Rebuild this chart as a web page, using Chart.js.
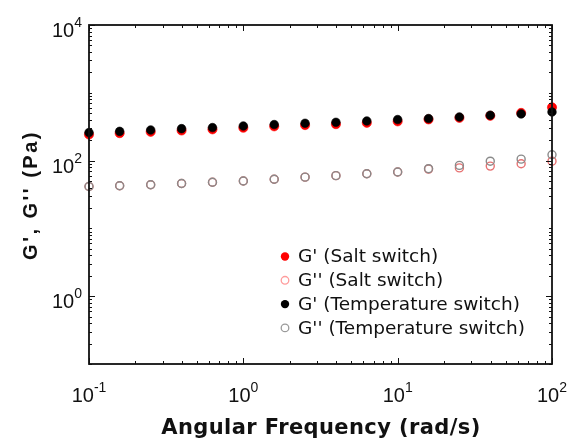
<!DOCTYPE html>
<html>
<head>
<meta charset="utf-8">
<script src="https://cdn.jsdelivr.net/npm/chart.js@4.4.1/dist/chart.umd.min.js"></script>
<style>
  html, body { margin: 0; padding: 0; background: #fff; }
  #wrap { width: 572px; height: 439px; position: relative; }
</style>
</head>
<body>
<div id="wrap"><canvas id="chart"></canvas></div>
<script>
// angular frequency (rad/s), 5 points per decade
const freq = [0.1, 0.158, 0.251, 0.398, 0.631, 1, 1.585, 2.512, 3.981, 6.31, 10, 15.85, 25.12, 39.81, 63.1, 100];
// storage / loss moduli (Pa)
const gpSalt   = [243, 254, 266, 278, 289, 305, 320, 334, 345, 361, 379, 405, 427, 458, 505, 610];
const gppSalt  = [41.5, 42.5, 44, 46, 48, 50, 53, 57, 60, 64, 68, 75, 78, 83, 90, 98];
const gpTemp   = [259, 270, 283, 296, 307, 324, 340, 355, 367, 384, 403, 417, 440, 467, 488, 521];
const gppTemp  = [41.5, 42.5, 44, 46, 48, 50, 53, 57, 60, 64, 68, 76, 85, 98, 105, 122];

const xTickVals = [0.1, 1, 10, 100];
const xTickExp  = ['-1', '0', '1', '2'];
const yTickVals = [1, 100, 10000];
const yTickExp  = ['0', '2', '4'];

const xTitle = 'Angular Frequency (rad/s)';
const yTitle = "G', G'' (Pa)";

const pts = (ys) => freq.map((f, i) => ({ x: f, y: ys[i] }));

const datasets = [
  { label: "G' (Temperature switch)", data: pts(gpTemp), order: 0, legendPos: 2,
    pointRadius: 4.3, pointBackgroundColor: '#000', pointBorderColor: '#000', pointBorderWidth: 0.6, filled: true },
  { label: "G'' (Temperature switch)", data: pts(gppTemp), order: 1, legendPos: 3,
    pointRadius: 4, pointBackgroundColor: 'rgba(0,0,0,0)', pointBorderColor: '#8a8a8a', pointBorderWidth: 1.4, filled: false,
    legendColor: '#9a9a9a' },
  { label: "G' (Salt switch)", data: pts(gpSalt), order: 2, legendPos: 0,
    pointRadius: 4.6, pointBackgroundColor: '#ff0000', pointBorderColor: '#ff0000', pointBorderWidth: 0.6, filled: true },
  { label: "G'' (Salt switch)", data: pts(gppSalt), order: 3, legendPos: 1,
    pointRadius: 4, pointBackgroundColor: 'rgba(0,0,0,0)', pointBorderColor: '#e77272', pointBorderWidth: 1.4, filled: false,
    legendColor: '#ff9c9c' }
];
datasets.forEach(d => { d.showLine = false; d.clip = false; });

function drawPow(ctx, exp, x, base, align) {
  ctx.font = '20px "Liberation Sans", Arial, sans-serif';
  const w10 = ctx.measureText('10').width;
  ctx.font = '14px "Liberation Sans", Arial, sans-serif';
  const we = ctx.measureText(exp).width;
  const start = align === 'center' ? x - (w10 + we) / 2 : x - (w10 + we);
  ctx.textAlign = 'left';
  ctx.textBaseline = 'alphabetic';
  ctx.font = '20px "Liberation Sans", Arial, sans-serif';
  ctx.fillText('10', start, base);
  ctx.font = '14px "Liberation Sans", Arial, sans-serif';
  ctx.fillText(exp, start + w10, base - 10);
}

const frame = {
  id: 'frame',
  afterDatasetsDraw(chart) {
    const { ctx, chartArea: a, scales: { x, y } } = chart;
    ctx.save();
    ctx.strokeStyle = '#111';
    ctx.lineWidth = 1;
    // minor and major tick marks, inward, on all four sides
    ctx.beginPath();
    for (let e = -1; e <= 2; e++) {
      for (let m = 1; m <= 9; m++) {
        const v = m * Math.pow(10, e);
        if (v > 100.001) break;
        const px = Math.round(x.getPixelForValue(v)) + 0.5;
        const len = m === 1 ? 6 : 3;
        ctx.moveTo(px, a.bottom); ctx.lineTo(px, a.bottom - len);
        ctx.moveTo(px, a.top); ctx.lineTo(px, a.top + len);
      }
    }
    for (let e = -1; e <= 4; e++) {
      for (let m = 1; m <= 9; m++) {
        const v = m * Math.pow(10, e);
        if (v > 10000.1) break;
        const py = Math.round(y.getPixelForValue(v)) + 0.5;
        const len = (m === 1 && yTickVals.includes(v)) ? 6 : 3;
        ctx.moveTo(a.left, py); ctx.lineTo(a.left + len, py);
        ctx.moveTo(a.right, py); ctx.lineTo(a.right - len, py);
      }
    }
    ctx.stroke();
    ctx.lineWidth = 1.8;
    ctx.strokeRect(a.left, a.top, a.right - a.left, a.bottom - a.top);

    // tick labels
    ctx.fillStyle = '#111';
    xTickVals.forEach((v, i) => drawPow(ctx, xTickExp[i], x.getPixelForValue(v), a.bottom + 38, 'center'));
    yTickVals.forEach((v, i) => drawPow(ctx, yTickExp[i], a.left - 7, y.getPixelForValue(v) + 12, 'right'));

    // axis titles
    ctx.save();
    ctx.font = 'bold 21px "DejaVu Sans", sans-serif';
    ctx.letterSpacing = '0.4px';
    ctx.textAlign = 'center';
    ctx.textBaseline = 'alphabetic';
    ctx.fillText(xTitle, 321, 434);
    ctx.restore();

    ctx.save();
    ctx.translate(37, 195);
    ctx.rotate(-Math.PI / 2);
    ctx.font = 'bold 20px "Liberation Sans", Arial, sans-serif';
    ctx.letterSpacing = '2.5px';
    ctx.textAlign = 'center';
    ctx.fillText(yTitle, 0, 0);
    ctx.restore();

    // legend inside the axes
    const lx = 285, ly = 256.5, step = 23.8;
    ctx.font = '18.5px "DejaVu Sans", sans-serif';
    ctx.textBaseline = 'middle';
    ctx.textAlign = 'left';
    chart.data.datasets.forEach(d => {
      const cy = ly + d.legendPos * step;
      ctx.beginPath();
      if (d.filled) {
        ctx.arc(lx, cy, 4.2, 0, Math.PI * 2);
        ctx.fillStyle = d.pointBackgroundColor;
        ctx.fill();
      } else {
        ctx.arc(lx, cy, 3.8, 0, Math.PI * 2);
        ctx.strokeStyle = d.legendColor;
        ctx.lineWidth = 1.3;
        ctx.stroke();
      }
      ctx.fillStyle = '#111';
      ctx.fillText(d.label, lx + 13, cy + 1);
    });
    ctx.restore();
  }
};

new Chart(document.getElementById('chart'), {
  type: 'scatter',
  data: { datasets },
  options: {
    responsive: true,
    maintainAspectRatio: false,
    animation: false,
    layout: { padding: { left: 89, top: 25, right: 20, bottom: 75 } },
    plugins: { legend: { display: false }, tooltip: { enabled: false } },
    scales: {
      x: { type: 'logarithmic', min: 0.1, max: 100, display: false },
      y: { type: 'logarithmic', min: 0.1, max: 10000, display: false }
    }
  },
  plugins: [frame]
});
</script>
</body>
</html>
